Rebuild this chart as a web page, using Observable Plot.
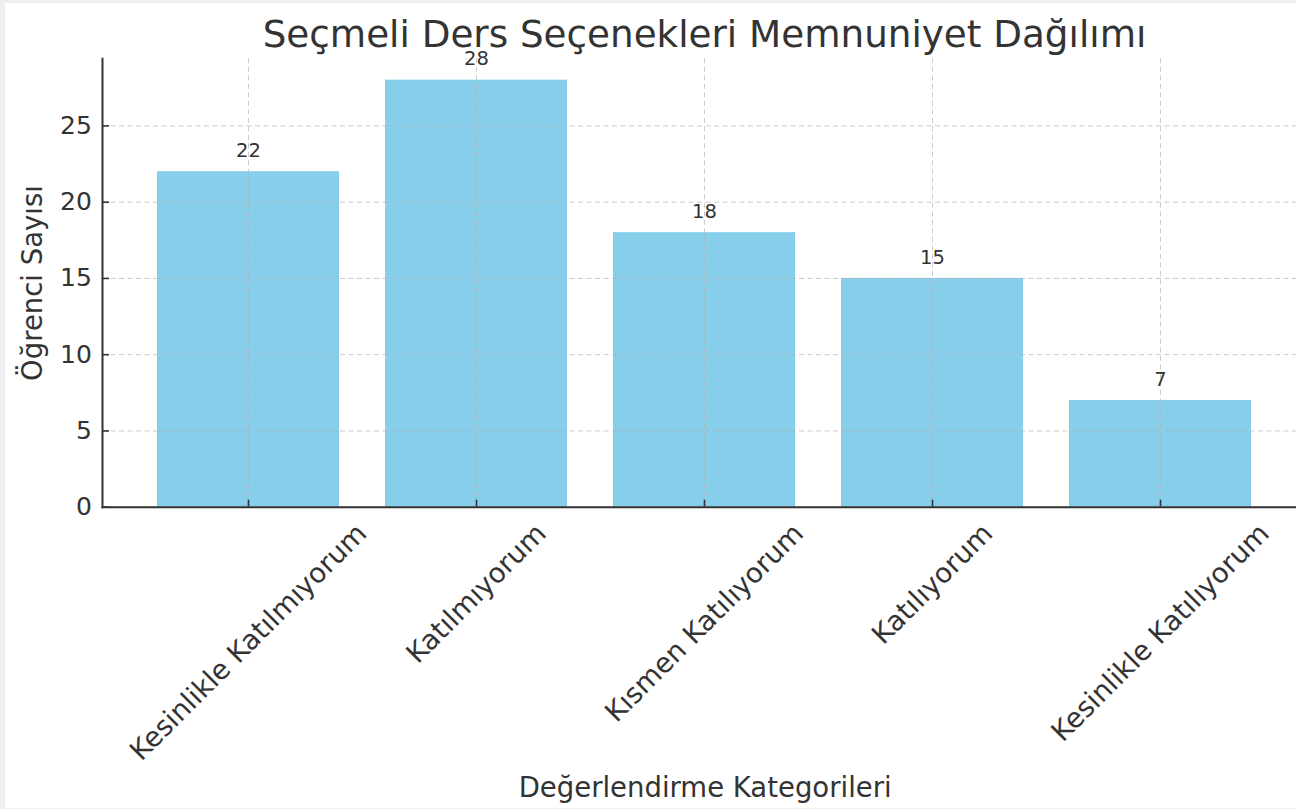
<!DOCTYPE html>
<html><head><meta charset="utf-8">
<script src="https://cdn.jsdelivr.net/npm/d3@7"></script>
<script src="https://cdn.jsdelivr.net/npm/@observablehq/plot@0.6"></script>
<style>
html,body{margin:0;padding:0;background:#fff;}
#wrap{position:relative;width:1296px;height:809px;overflow:hidden;background:#fff;font-family:"DejaVu Sans",sans-serif;color:#333;}
#edge{position:absolute;left:0;top:0;width:1296px;height:809px;box-shadow:inset 5px 3px 0 #efefef, inset 0 -1px 0 #efefef;pointer-events:none;z-index:5}
#title{position:absolute;left:102px;width:1205px;top:16px;font-size:37.3px;line-height:37px;text-align:center;z-index:2;white-space:nowrap;color:#333}
#chart{position:absolute;left:0;top:40px;}
</style></head><body>
<div id="wrap"><div id="title"></div><div id="chart"></div><div id="edge"></div></div>
<script>
const title = "Seçmeli Ders Seçenekleri Memnuniyet Dağılımı";
const xLabel = "Değerlendirme Kategorileri";
const yLabel = "Öğrenci Sayısı";
const categories = ["Kesinlikle Katılmıyorum", "Katılmıyorum", "Kısmen Katılıyorum", "Katılıyorum", "Kesinlikle Katılıyorum"];
const counts = [22, 28, 18, 15, 7];
const yTicks = [0, 5, 10, 15, 20, 25];

document.getElementById("title").textContent = title;

const data = categories.map((c, i) => ({category: c, count: counts[i]}));
const FONT = "DejaVu Sans";
const tickFS = 27.5;
const ctx = document.createElement("canvas").getContext("2d");
ctx.font = `${tickFS}px "${FONT}"`;

const xTickLabels = categories.map(c => {
  const L = ctx.measureText(c).width;
  const dy = 10.3 + (L + 1.164 * tickFS) / (2 * Math.SQRT2);
  return Plot.text([c], {x: d => d, text: d => d, frameAnchor: "bottom", dy, rotate: -45,
    textAnchor: "middle", lineAnchor: "middle", fontSize: tickFS, fill: "#333"});
});

const gridStyle = {stroke: "#b0b0b0", strokeOpacity: 0.65, strokeWidth: 1, strokeDasharray: "5,3.5"};

const chart = Plot.plot({
  width: 1296, height: 769,
  marginLeft: 102, marginRight: -11.3, marginTop: 18.3, marginBottom: 302.3,
  style: {background: "transparent", overflow: "visible", fontFamily: FONT, color: "#333"},
  x: {type: "band", domain: categories, paddingInner: 0.2, paddingOuter: 0.24, label: null},
  y: {domain: [0, 29.4], label: null},
  marks: [
    Plot.barY(data, {x: "category", y: "count", fill: "#87CEEB"}),
    Plot.gridY(yTicks, gridStyle),
    Plot.gridX(categories, gridStyle),
    Plot.frame({anchor: "left", stroke: "#333", strokeWidth: 2}),
    Plot.frame({anchor: "bottom", stroke: "#333", strokeWidth: 2}),
    Plot.axisY(yTicks, {tickSize: 7, dx: 7, tickPadding: 10.7, fontSize: 25, label: null, color: "#333", strokeWidth: 1.6}),
    Plot.axisX(categories, {tickSize: 7, dy: -7, tickFormat: () => "", label: null, color: "#333", strokeWidth: 1.6}),
    Plot.text(data, {x: "category", y: "count", text: d => String(d.count), dy: -21, fontSize: 19.5, fill: "#333"}),
    ...xTickLabels,
    Plot.text([yLabel], {text: d => d, frameAnchor: "left", dx: -69.3, rotate: -90, textAnchor: "middle", lineAnchor: "middle", fontSize: 27.5, fill: "#333"}),
    Plot.text([xLabel], {text: d => d, frameAnchor: "bottom", dy: 281, textAnchor: "middle", lineAnchor: "middle", fontSize: 27.5, fill: "#333"})
  ]
});
document.getElementById("chart").appendChild(chart);
</script>
</body></html>
